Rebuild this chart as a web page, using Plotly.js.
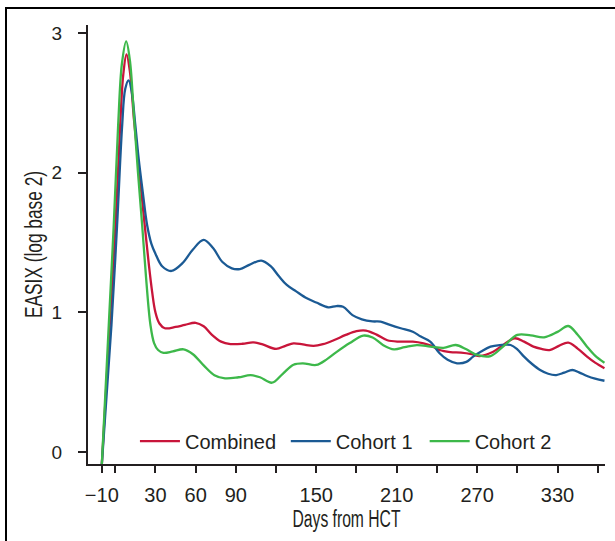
<!DOCTYPE html>
<html>
<head>
<meta charset="utf-8">
<script src="https://cdn.plot.ly/plotly-3.0.1.min.js"></script>
<style>
html,body{margin:0;padding:0;background:#fff;overflow:hidden;}
#frame{position:absolute;left:5px;top:7px;width:800px;height:800px;border-left:2px solid #000;border-top:2px solid #000;}
#chart{position:absolute;left:0;top:0;width:615px;height:541px;}
</style>
</head>
<body>
<div id="frame"></div>
<div id="chart"></div>
<script>
// Combined
const daysCombined = [-10,-4,0.2,3.7,6,8.4,11,14,18,22,25,27.5,30,33,37,45,52,60,66,72,79,86,95,103,110,120,127,133,140,148,155,163,172,180,187,195,203,212,222,230,236,242,250,258,266,272,282,290,298,305,312,318,324,331,338,345,352,358,365];
const easixCombined = [-0.09,0.92,1.625,2.34,2.7,2.847,2.72,2.38,2.0,1.625,1.35,1.15,1.0,0.92,0.886,0.895,0.91,0.925,0.9,0.84,0.79,0.773,0.775,0.785,0.77,0.738,0.76,0.778,0.77,0.76,0.772,0.8,0.838,0.865,0.869,0.84,0.8,0.79,0.79,0.778,0.76,0.73,0.715,0.711,0.7,0.687,0.718,0.77,0.814,0.79,0.754,0.738,0.73,0.76,0.783,0.74,0.683,0.64,0.6];
// Cohort 1
const daysCohort1 = [-10,-2.8,1.4,5.2,7.5,10,12.3,15,17.5,20.5,23.8,27,30,35,42,50,58,66,73,80,87,93,100,109,116,122,128,135,143,150,159,165,170,177,184,192,198,205,213,222,228,235,242,248,255,262,267,273,280,287,295,300,305,311,317,323,329,335,341,346,352,358,365];
const easixCohort1 = [-0.09,0.91,1.625,2.34,2.6,2.66,2.58,2.34,2.1,1.864,1.625,1.49,1.42,1.33,1.296,1.35,1.45,1.518,1.46,1.36,1.315,1.31,1.34,1.37,1.33,1.26,1.196,1.15,1.1,1.07,1.036,1.045,1.04,0.98,0.95,0.935,0.933,0.91,0.886,0.861,0.826,0.79,0.707,0.66,0.635,0.645,0.683,0.72,0.754,0.765,0.766,0.735,0.683,0.63,0.587,0.56,0.551,0.568,0.587,0.57,0.544,0.525,0.51];
// Cohort 2
const daysCohort2 = [-10,-4.8,-1.1,2.2,5,8.2,11,14,17,20.1,23,26.3,29,32,36,43,51,58,66,74,82,92,101,108,117,125,133,140,150,158,165,175,185,192,200,208,216,225,235,245,254,262,270,280,290,300,310,320,330,338,345,352,358,365];
const easixCohort2 = [-0.09,0.91,1.625,2.34,2.78,2.94,2.8,2.4,2.0,1.625,1.25,0.909,0.78,0.73,0.71,0.72,0.735,0.7,0.62,0.55,0.527,0.535,0.55,0.535,0.496,0.56,0.625,0.635,0.623,0.665,0.715,0.78,0.833,0.82,0.765,0.735,0.75,0.765,0.755,0.745,0.766,0.735,0.695,0.687,0.76,0.838,0.835,0.821,0.86,0.902,0.84,0.754,0.69,0.639];

const xTickVals = [-10,0,30,60,90,120,150,180,210,240,270,300,330,360];
const xTickText = ['\u221210','','30','60','90','','150','','210','','270','','330',''];
const yTickVals = [0,1,2,3];
const yTickText = ['0','1','2','3'];

const seriesNames = ['Combined','Cohort 1','Cohort 2'];
const seriesColors = ['#c8153a','#1b5a94','#3db84a'];

const ink = '#231f20';
const sans = 'Liberation Sans, Arial, Helvetica, sans-serif';

const xs = [daysCombined, daysCohort1, daysCohort2];
const ys = [easixCombined, easixCohort1, easixCohort2];
const legendIds = ['legend','legend2','legend3'];
const legendX = [0.0908, 0.3826, 0.6512];

const traces = seriesNames.map((n,i)=>({
  type:'scatter', mode:'lines', name:n, legend:legendIds[i],
  x: xs[i], y: ys[i],
  line:{color:seriesColors[i], width:2.3, shape:'spline', smoothing:1},
  hoverinfo:'skip'
}));

const legendBase = {orientation:'h', xanchor:'left', y:0.052, yanchor:'middle', itemwidth:40,
          font:{family:sans, size:20, color:ink}, bgcolor:'rgba(0,0,0,0)', itemclick:false};

const layout = {
  width:615, height:541,
  margin:{l:87.5, r:10, t:25, b:77},
  paper_bgcolor:'rgba(0,0,0,0)', plot_bgcolor:'rgba(0,0,0,0)',
  showlegend:true,
  legend:Object.assign({}, legendBase, {x:legendX[0]}),
  legend2:Object.assign({}, legendBase, {x:legendX[1]}),
  legend3:Object.assign({}, legendBase, {x:legendX[2]}),
  xaxis:{
    range:[-20.3,365.4], showgrid:false, zeroline:false,
    showline:true, linecolor:ink, linewidth:2,
    ticks:'outside', ticklen:7, tickwidth:2, tickcolor:ink,
    tickvals:xTickVals, ticktext:xTickText,
    tickfont:{family:sans, size:20, color:ink}, ticklabelstandoff:5,
    title:{text:'Days from HCT', font:{family:sans, size:23, color:ink}, standoff:6}
  },
  yaxis:{
    range:[-0.086,3.057], showgrid:false, zeroline:false,
    showline:true, linecolor:ink, linewidth:2,
    ticks:'outside', ticklen:8, tickwidth:2, tickcolor:ink,
    tickvals:yTickVals, ticktext:yTickText,
    tickfont:{family:sans, size:19, color:ink}, ticklabelstandoff:12,
    title:{text:'EASIX (log base 2)', font:{family:sans, size:23, color:ink}, standoff:3}
  }
};

Plotly.newPlot('chart', traces, layout, {staticPlot:true, displayModeBar:false}).then(gd=>{
  // condensed look of the original axis titles
  const xt = gd.querySelector('.xtitle');
  if (xt) { xt.setAttribute('textLength','108'); xt.setAttribute('lengthAdjust','spacingAndGlyphs'); }
  const yt = gd.querySelector('.ytitle');
  if (yt) { yt.setAttribute('textLength','147'); yt.setAttribute('lengthAdjust','spacingAndGlyphs'); }
});
</script>
</body>
</html>
